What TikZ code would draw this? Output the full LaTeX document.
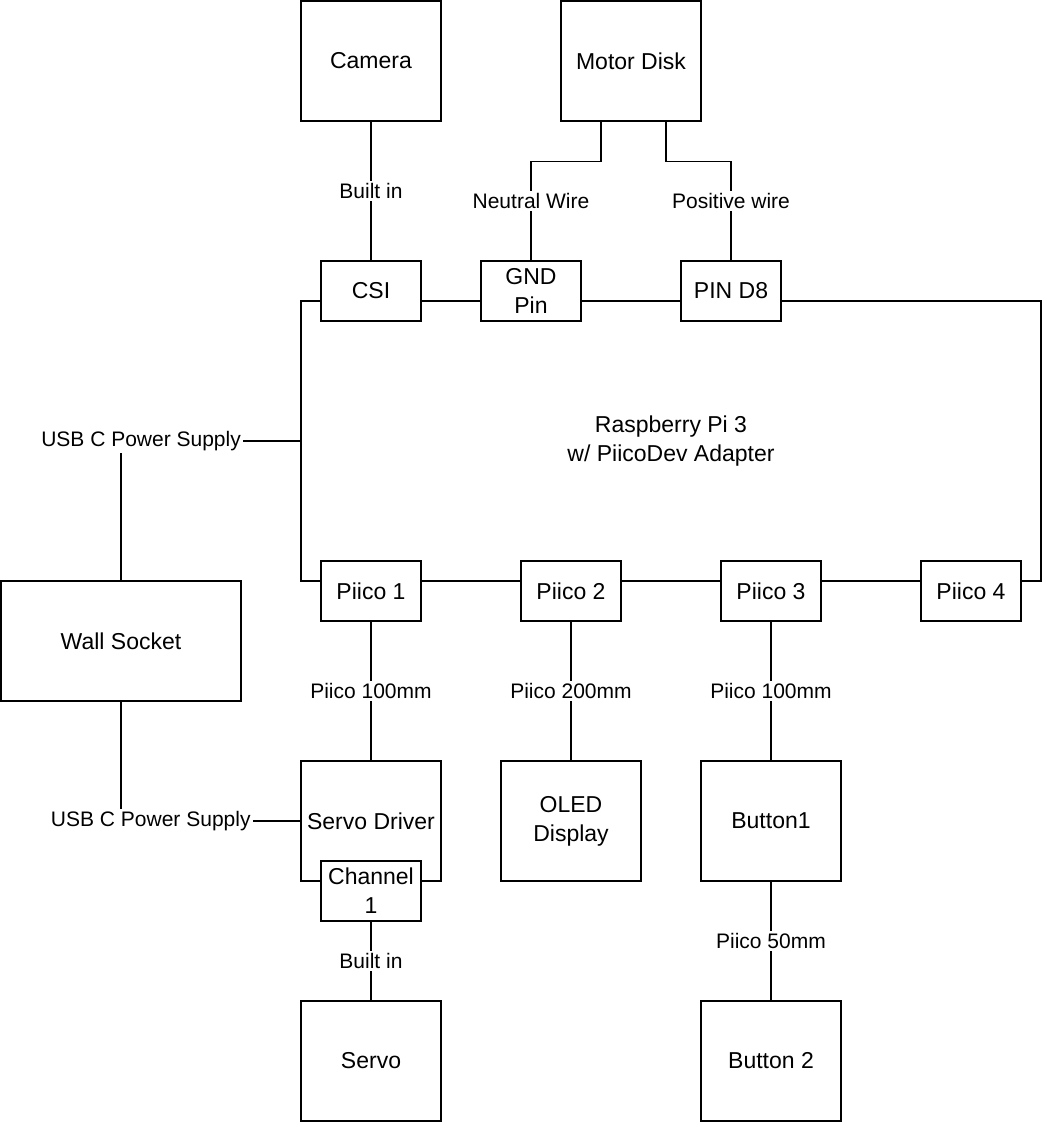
\documentclass[tikz,border=0pt]{standalone}
\usepackage{fontspec}
\setmainfont{Liberation Sans}
\usetikzlibrary{calc}
\begin{document}
\begin{tikzpicture}[x=1pt,y=-1pt,
  line width=1.3pt,
  boxbase/.style={draw, fill=white, align=center, inner sep=0pt, font=\fontsize{23}{29}\selectfont},
  bigbox/.style={boxbase, minimum width=140pt, minimum height=120pt},
  smallbox/.style={boxbase, minimum width=100pt, minimum height=60pt},
  lbl/.style={fill=white, inner sep=2pt, font=\fontsize{21}{26}\selectfont}]
\useasboundingbox (0,0) rectangle (1042,1122);
% Raspberry Pi main board
\node[boxbase, minimum width=740pt, minimum height=280pt] (pi) at (671,441) {Raspberry Pi 3\\w/ PiicoDev Adapter};
% top nodes
\node[bigbox] (cam) at (371,61) {Camera};
\node[bigbox] (motor) at (631,61) {Motor Disk};
\node[smallbox] (csi) at (371,291) {CSI};
\node[smallbox] (gnd) at (531,291) {GND\\Pin};
\node[smallbox] (pin) at (731,291) {PIN D8};
% piico ports
\node[smallbox] (p1) at (371,591) {Piico 1};
\node[smallbox] (p2) at (571,591) {Piico 2};
\node[smallbox] (p3) at (771,591) {Piico 3};
\node[smallbox] (p4) at (971,591) {Piico 4};
% wall socket
\node[boxbase, minimum width=240pt, minimum height=120pt] (wall) at (121,641) {Wall Socket};
% lower devices
\node[bigbox] (sd) at (371,821) {Servo Driver};
\node[smallbox] (ch1) at (371,891) {Channel\\1};
\node[bigbox] (oled) at (571,821) {OLED\\Display};
\node[bigbox] (btn1) at (771,821) {Button1};
\node[bigbox] (btn2) at (771,1061) {Button 2};
\node[bigbox] (servo) at (371,1061) {Servo};
% connectors
\draw (cam.south) -- node[lbl] {Built in} (csi.north);
\coordinate (mL) at ([xshift=-30pt]motor.south);
\coordinate (mR) at ([xshift=35pt]motor.south);
\draw (mL) -- ++(0,40) -| node[lbl, pos=0.7] {Neutral Wire} (gnd.north);
\draw (mR) -- ++(0,40) -| node[lbl, pos=0.7] {Positive wire} (pin.north);
\draw (wall.north) |- node[lbl, pos=0.556] {USB C Power Supply} (pi.west);
\draw (wall.south) |- node[lbl, pos=0.583] {USB C Power Supply} (sd.west);
\draw (p1.south) -- node[lbl] {Piico 100mm} (sd.north);
\draw (p2.south) -- node[lbl] {Piico 200mm} (oled.north);
\draw (p3.south) -- node[lbl] {Piico 100mm} (btn1.north);
\draw (btn1.south) -- node[lbl] {Piico 50mm} (btn2.north);
\draw (ch1.south) -- node[lbl] {Built in} (servo.north);
\end{tikzpicture}
\end{document}
